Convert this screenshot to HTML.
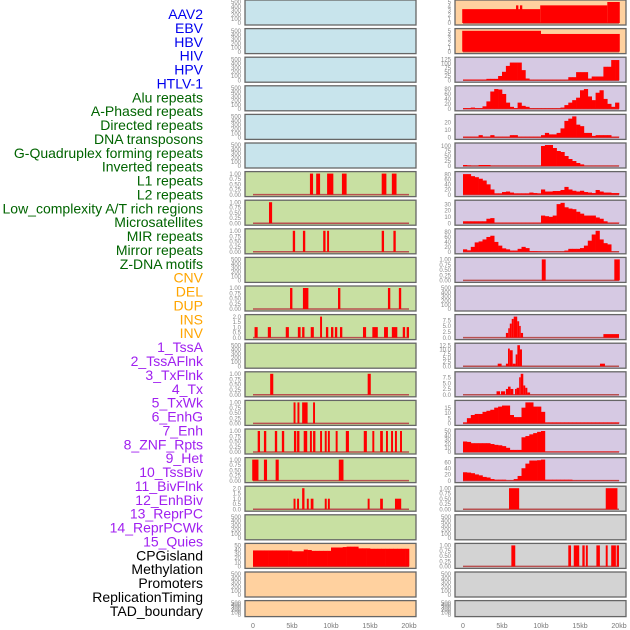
<!DOCTYPE html>
<html><head><meta charset="utf-8"><style>
html,body{margin:0;padding:0;background:#fff;width:630px;height:630px;overflow:hidden}
svg text{font-family:"Liberation Sans",sans-serif}
</style></head><body>
<svg id="chart" width="630" height="630" viewBox="0 0 630 630" xmlns="http://www.w3.org/2000/svg">
<g id="labels"></g>
<g id="panels"></g>
<g id="xaxes"></g>
</svg>
<script>
// ---- labels ----
const trackLabels = ["AAV2","EBV","HBV","HIV","HPV","HTLV-1","Alu repeats","A-Phased repeats","Directed repeats","DNA transposons","G-Quadruplex forming repeats","Inverted repeats","L1 repeats","L2 repeats","Low_complexity A/T rich regions","Microsatellites","MIR repeats","Mirror repeats","Z-DNA motifs","CNV","DEL","DUP","INS","INV","1_TssA","2_TssAFlnk","3_TxFlnk","4_Tx","5_TxWk","6_EnhG","7_Enh","8_ZNF_Rpts","9_Het","10_TssBiv","11_BivFlnk","12_EnhBiv","13_ReprPC","14_ReprPCWk","15_Quies","CPGisland","Methylation","Promoters","ReplicationTiming","TAD_boundary"];
const labelGroups = ["v","v","v","v","v","v","r","r","r","r","r","r","r","r","r","r","r","r","r","c","c","c","c","c","h","h","h","h","h","h","h","h","h","h","h","h","h","h","h","k","k","k","k","k"];
const xTickLabels = ["0","5kb","10kb","15kb","20kb"];
const xTickValues = [0,5,10,15,20];

// ---- left column data (kb segments: start, end, value) ----
const L_L1 = [[7.3,7.7,1],[8.1,8.6,1],[9.5,10.3,1],[11.4,12.0,1],[16.5,17.1,1],[17.8,18.4,1]];
const L_L2 = [[2.05,2.45,1]];
const L_LowC = [[5.1,5.4,1],[6.4,6.7,1],[9.0,9.3,1],[9.5,9.75,1],[16.5,16.8,1],[18.0,18.3,1]];
const L_MIR = [[4.75,5.05,1],[6.4,7.1,1],[10.9,11.2,1],[17.3,17.6,1],[18.7,19.0,1]];
const L_Mirror = [[0.2,0.6,1],[1.9,2.3,1],[4.2,4.6,1],[5.75,6.1,1],[6.3,6.6,1],[7.4,7.8,1],[8.6,8.85,2],[9.35,9.65,1],[10.0,10.3,1],[10.5,10.8,1],[11.15,11.45,1],[14.1,14.5,1],[15.3,16.0,1],[16.8,17.3,1],[17.8,18.5,1],[19.2,19.5,1],[19.7,20.0,1]];
const L_CNV = [[2.2,2.6,1],[14.7,15.1,1]];
const L_DEL = [[5.2,5.45,1],[5.7,5.95,1],[6.3,7.0,1],[7.7,7.95,1]];
const L_DUP = [[0.6,0.9,1],[1.4,1.7,1],[2.8,3.1,1],[3.7,4.0,1],[5.25,5.55,1],[5.65,5.95,1],[6.5,6.95,1],[7.3,7.55,1],[7.7,8.0,1],[8.6,8.85,1],[9.2,9.45,1],[9.6,9.85,1],[10.6,10.85,1],[11.9,12.3,1],[14.2,14.6,1],[15.3,15.55,1],[16.3,16.65,1],[17.05,17.3,1],[17.7,17.95,1],[18.2,18.45,1],[18.85,19.1,1]];
const L_INS = [[-0.1,0.7,1],[1.4,1.8,1],[2.9,3.3,1],[11.0,11.6,1]];
const L_INV = [[5.2,5.45,1],[5.65,5.9,1],[6.3,6.6,2],[6.9,7.15,1],[7.4,7.75,1],[9.2,9.45,1],[9.6,9.85,1],[14.7,14.95,1],[16.3,16.65,1],[18.2,19.0,1]];
const L_CPG = [38,38,38,38,38,38,38,38,38,38,36,36,36,40,39,37,37,37,37,37,45,45,45,46,47,47,47,43,43,43,42,42,42,42,42,42,42,42,42,42];

// ---- right column data ----
const R_AAV2 = [[-0.1,9.9,3.3],[6.8,7.1,4.2],[7.3,7.6,4.2],[9.9,18.5,4.2],[18.5,20.1,5]];
const R_EBV = [[-0.1,10.0,4.95],[10.0,20.1,4.2]];
const R_HIV = [4,4,4,4,4,4,8,8,8,25,50,85,105,105,105,60,10,3,3,3,3,3,3,3,3,3,3,18,18,48,48,48,10,22,22,22,80,80,120,120];
const R_HPV = [3,3,5,3,3,10,30,70,80,78,60,25,8,3,25,12,8,2,2,2,2,2,2,2,2,5,15,25,35,45,75,80,50,35,65,75,40,20,8,25];
const R_Alu = [1,1,1,1,3,1,1,3,1,1,1,1,3,3,1,1,1,1,1,1,3,6,4,4,6,12,22,25,28,17,15,6,6,2,3,3,3,3,1,1];
const R_APh = [5,3,1,1,5,5,5,1,1,1,1,1,1,1,1,1,1,1,1,1,100,105,105,90,75,70,50,35,25,15,8,1,1,1,1,1,1,1,1,1];
const R_Dir = [80,80,72,68,62,55,40,20,5,5,10,12,8,5,5,5,5,8,6,5,20,12,12,14,14,18,30,20,15,12,15,10,8,6,18,12,8,8,6,6];
const R_DNA = [3,3,3,3,3,3,7,8,1,1,1,1,1,1,1,1,1,1,1,1,12,11,10,12,30,32,25,23,22,18,15,12,12,12,9,7,3,1,1,1];
const R_GQ = [10,6,20,38,42,50,60,65,40,25,14,10,5,5,12,20,15,3,3,2,1,1,1,1,1,1,5,12,12,12,15,25,45,70,85,50,35,30,1,1];
const R_Inv = [[10.1,10.6,1],[19.4,20.1,1]];
const R_DUP = [[5.5,5.8,2],[5.8,6.0,4],[6.0,6.25,6],[6.25,6.5,8],[6.5,6.95,9],[6.95,7.2,7],[7.2,7.4,5],[7.4,7.7,2],[18.0,20.0,1.5]];
const R_INS = [[4.45,4.95,1.5],[5.5,5.77,1.5],[5.77,6.0,10.5],[6.0,6.37,9.5],[6.37,6.75,1.5],[6.75,6.97,7],[6.97,7.3,12.5],[7.3,7.56,10],[17.56,18.2,1.5]];
const R_INV = [[4.3,4.75,1.5],[4.87,5.4,1.5],[5.5,5.77,2.5],[5.77,6.1,3.5],[6.1,6.45,2.5],[6.67,6.88,2.5],[6.88,7.2,3],[7.2,7.4,7.5],[7.4,7.73,9],[7.73,7.98,4],[7.98,8.25,3],[8.25,8.6,1]];
const R_TssA = [1,5,8,9,9,11,12,13,15,16,17,17,8,6,6,15,20,20,16,16,11,1,1,1,1,1,1,1,1,1,1,1,1,1,1,1,1,1,1,1];
const R_TssAF = [25,24,21,21,21,21,21,19,17,16,14,10,5,5,5,35,38,42,45,48,50,1,1,1,1,1,1,1,1,1,1,1,1,1,1,1,1,1,1,1];
const R_TxF = [27,26,24,20,17,12,10,5,3,3,3,1,1,5,15,40,55,65,65,66,68,3,3,3,3,3,3,3,1,1,1,1,1,1,1,1,1,1,1,1];
const R_Tx = [[5.9,7.2,1],[18.3,19.8,1]];
const R_CPG = [[6.2,6.7,1],[13.5,13.85,1],[14.2,14.9,1],[15.3,15.6,1],[15.75,16.0,1],[17.1,17.55,1],[18.3,18.55,1],[19.0,19.6,1],[19.7,20.0,1]];

const T_EMPTY = ["0","100","200","300","400","500"];
const T_ONE = ["0.00","0.25","0.50","0.75","1.00"];
const T_TWO = ["0.0","0.5","1.0","1.5","2.0"];

const BLUE="#c8e4ec", GREEN="#c8e0a2", ORANGE="#ffd19f", LAV="#d6c9e3", GRAY="#d3d3d3";
const COLS = [245, 455];
function rowTop(r){ return r*28.6; }
function rowH(r){ return r===21 ? 16 : 25; }

// panel definitions: [col,row,bg,kind,data,ymax,ticks,tickVals]
const panels = [];
for(let r=0;r<22;r++){
  let bg = r<6?BLUE:(r<19?GREEN:ORANGE);
  panels.push({c:0,r:r,bg:bg,kind:"empty",d:null,ymax:500,t:T_EMPTY,tv:[0,100,200,300,400,500]});
}
function setL(r,kind,d,ymax,t,tv){Object.assign(panels[r],{kind,d,ymax,t,tv});}
setL(6,"seg",L_L1,1,T_ONE,[0,0.25,0.5,0.75,1]);
setL(7,"seg",L_L2,1,T_ONE,[0,0.25,0.5,0.75,1]);
setL(8,"seg",L_LowC,1,T_ONE,[0,0.25,0.5,0.75,1]);
setL(10,"seg",L_MIR,1,T_ONE,[0,0.25,0.5,0.75,1]);
setL(11,"seg",L_Mirror,2,T_TWO,[0,0.5,1,1.5,2]);
setL(13,"seg",L_CNV,1,T_ONE,[0,0.25,0.5,0.75,1]);
setL(14,"seg",L_DEL,1,T_ONE,[0,0.25,0.5,0.75,1]);
setL(15,"seg",L_DUP,1,T_ONE,[0,0.25,0.5,0.75,1]);
setL(16,"seg",L_INS,1,T_ONE,[0,0.25,0.5,0.75,1]);
setL(17,"seg",L_INV,2,T_TWO,[0,0.5,1,1.5,2]);
setL(19,"bins",L_CPG,50,["0","10","20","30","40","50"],[0,10,20,30,40,50]);
const R = [];
function addR(r,bg,kind,d,ymax,t,tv){R.push({c:1,r:r,bg:bg,kind,d,ymax,t,tv});}
addR(0,ORANGE,"seg",R_AAV2,5,["0","1","2","3","4","5"],[0,1,2,3,4,5]);
addR(1,ORANGE,"seg",R_EBV,5,["0","1","2","3","4","5"],[0,1,2,3,4,5]);
addR(2,LAV,"bins",R_HIV,125,["0","25","50","75","100","125"],[0,25,50,75,100,125]);
addR(3,LAV,"bins",R_HPV,85,["0","20","40","60","80"],[0,20,40,60,80]);
addR(4,LAV,"bins",R_Alu,28,["0","10","20"],[0,10,20]);
addR(5,LAV,"bins",R_APh,105,["0","25","50","75","100"],[0,25,50,75,100]);
addR(6,LAV,"bins",R_Dir,82,["0","20","40","60","80"],[0,20,40,60,80]);
addR(7,LAV,"bins",R_DNA,33,["0","10","20","30"],[0,10,20,30]);
addR(8,LAV,"bins",R_GQ,85,["0","20","40","60","80"],[0,20,40,60,80]);
addR(9,LAV,"seg",R_Inv,1,T_ONE,[0,0.25,0.5,0.75,1]);
addR(10,LAV,"empty",null,500,T_EMPTY,[0,100,200,300,400,500]);
addR(11,LAV,"seg",R_DUP,9,["0.0","2.5","5.0","7.5"],[0,2.5,5,7.5]);
addR(12,LAV,"seg",R_INS,12.5,["0.0","2.5","5.0","7.5","10.0","12.5"],[0,2.5,5,7.5,10,12.5]);
addR(13,LAV,"seg",R_INV,9,["0.0","2.5","5.0","7.5"],[0,2.5,5,7.5]);
addR(14,LAV,"bins",R_TssA,20,["0","5","10","15"],[0,5,10,15]);
addR(15,LAV,"bins",R_TssAF,50,["0","10","20","30","40","50"],[0,10,20,30,40,50]);
addR(16,LAV,"bins",R_TxF,68,["0","20","40","60"],[0,20,40,60]);
addR(17,GRAY,"seg",R_Tx,1,T_ONE,[0,0.25,0.5,0.75,1]);
addR(18,GRAY,"empty",null,500,T_EMPTY,[0,100,200,300,400,500]);
addR(19,GRAY,"seg",R_CPG,1,T_ONE,[0,0.25,0.5,0.75,1]);
addR(20,GRAY,"empty",null,500,T_EMPTY,[0,100,200,300,400,500]);
addR(21,GRAY,"empty",null,500,T_EMPTY,[0,100,200,300,400,500]);

const NS="http://www.w3.org/2000/svg";
function mk(tag,attrs,parent){const e=document.createElementNS(NS,tag);for(const k in attrs)e.setAttribute(k,attrs[k]);parent.appendChild(e);return e;}
const W=171, PXKB=7.8;

// labels
const colorMap={v:"#0000ee",r:"#006400",c:"#ffa500",h:"#a020f0",k:"#000000"};
const lg=document.getElementById("labels");
trackLabels.forEach((s,i)=>{
  const t=mk("text",{x:203,y:14+i*13.88+5,"text-anchor":"end","font-size":"14",fill:colorMap[labelGroups[i]]},lg);
  
  
  t.textContent=s;
});

const pg=document.getElementById("panels");
function drawPanel(p){
  const x0=COLS[p.c], top=rowTop(p.r), h=rowH(p.r);
  const g=mk("g",{},pg);
  
  
  const bg=mk("rect",{x:x0,y:top,width:W,height:h,fill:p.bg},g);
  
  
  const xs=kb=>x0+8+kb*PXKB;
  const ys=v=>top+h-2-v/p.ymax*(h-4);
  if(p.kind!=="empty"){
    const bl=mk("line",{x1:xs(0),x2:xs(20),y1:ys(0),y2:ys(0),stroke:"#b85050","stroke-width":1.5},g);
    
    
  }
  if(p.kind==="seg"){
    p.d.forEach(s=>{
      const r=mk("rect",{x:xs(s[0]),y:ys(s[2]),width:Math.max(1,xs(s[1])-xs(s[0])),height:ys(0)-ys(s[2]),fill:"#ff0000"},g);
      
      
    });
  } else if(p.kind==="bins"){
    p.d.forEach((v,i)=>{
      const r=mk("rect",{x:xs(i*0.5),y:ys(v),width:xs(0.5)-xs(0)+0.3,height:ys(0)-ys(v),fill:"#ff0000"},g);
      
      
    });
  }
  const fr=mk("rect",{x:x0,y:top,width:W,height:h,fill:"none",stroke:"#666","stroke-width":1.3},g);
  
  
  p.t.forEach((lab,i)=>{
    const tx=mk("text",{x:x0-4,y:ys(p.tv[i])+2.2,"text-anchor":"end","font-size":"6",fill:"#888"},g);
    
    
    tx.textContent=lab;
  });
}
panels.forEach(drawPanel);
R.forEach(drawPanel);

const xg=document.getElementById("xaxes");
COLS.forEach(x0=>{
  xTickValues.forEach((v,i)=>{
    const t=mk("text",{x:x0+8+v*PXKB,y:628,"text-anchor":"middle","font-size":"7",fill:"#777"},xg);
    
    
    t.textContent=xTickLabels[i];
  });
});
</script>
</body></html>
